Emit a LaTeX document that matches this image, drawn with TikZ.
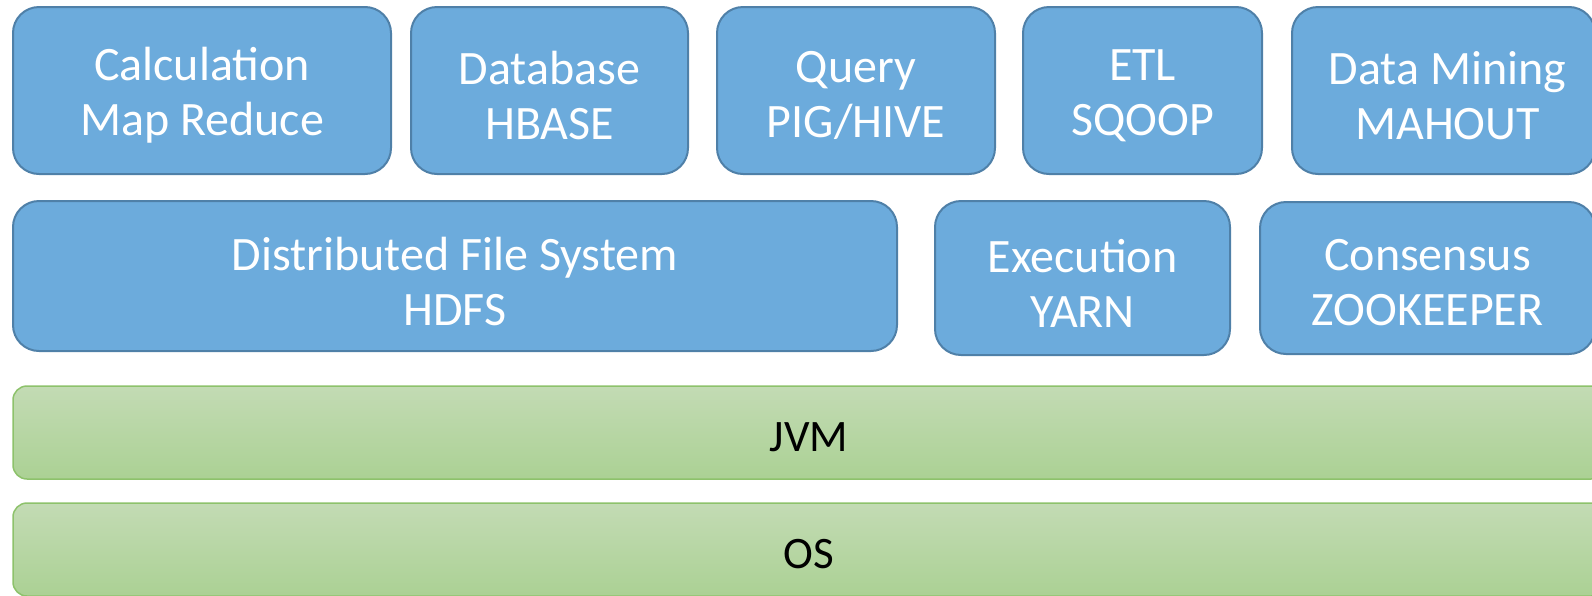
\documentclass[tikz,border=0pt]{standalone}
\usepackage{fontspec}
\setmainfont{Carlito}
\definecolor{bluefill}{HTML}{6CABDC}
\definecolor{blueline}{HTML}{4F80A8}
\definecolor{greentop}{HTML}{C3DBB4}
\definecolor{greenbot}{HTML}{ABD194}
\definecolor{greenline}{HTML}{8DC26B}
\tikzset{
  bluebox/.style={draw=blueline, line width=2pt, fill=bluefill, rounded corners=26pt, inner sep=0pt},
  bluetext/.style={text=white, align=center, inner sep=0pt, font=\fontsize{48}{55}\selectfont},
  greenbar/.style={draw=greenline, line width=1.5pt, top color=greentop, bottom color=greenbot,
    rounded corners=14pt, inner sep=0pt, minimum width=1592pt, minimum height=93pt},
  greentext/.style={text=black, inner sep=0pt, font=\fontsize{45}{54}\selectfont}
}
\begin{document}
\begin{tikzpicture}[x=1pt,y=-1pt]
\useasboundingbox (0,0) rectangle (1592,595);
\node[bluebox, minimum width=378pt, minimum height=167pt] (calc) at (202,90.5) {};
\node[bluebox, minimum width=277pt, minimum height=167pt] (db) at (549.5,90.5) {};
\node[bluebox, minimum width=278pt, minimum height=167pt] (query) at (856,90.5) {};
\node[bluebox, minimum width=239pt, minimum height=167pt] (etl) at (1142.5,90.5) {};
\node[bluebox, minimum width=303pt, minimum height=167pt] (mining) at (1443.5,90.5) {};
\node[bluebox, minimum width=884pt, minimum height=150pt] (hdfs) at (455,276) {};
\node[bluebox, minimum width=295pt, minimum height=154pt] (yarn) at (1082.5,278) {};
\node[bluebox, minimum width=335pt, minimum height=152pt] (zk) at (1427.5,278) {};
\node[greenbar] (jvm) at (809,432.5) {};
\node[greenbar] (os) at (809,549.5) {};
\node[bluetext] (calct) at ([yshift=-5pt]calc.center) {Calculation\\Map Reduce};
\node[bluetext] (dbt) at ([yshift=-5pt]db.center) {Database\\HBASE};
\node[bluetext] (queryt) at ([yshift=-5pt]query.center) {Query\\PIG/HIVE};
\node[bluetext] (etlt) at ([yshift=-5pt]etl.center) {ETL\\SQOOP};
\node[bluetext] (miningt) at ([yshift=-5pt,xshift=4pt]mining.center) {Data Mining\\MAHOUT};
\node[bluetext] (hdfst) at ([yshift=-5pt]hdfs.center) {Distributed File System\\HDFS};
\node[bluetext] (yarnt) at ([yshift=-5pt]yarn.center) {Execution\\YARN};
\node[bluetext] (zkt) at ([yshift=-5pt]zk.center) {Consensus\\ZOOKEEPER};
\node[greentext] (jvmt) at ([yshift=-5pt]jvm.center) {JVM};
\node[greentext] (ost) at ([yshift=-5pt]os.center) {OS};
\end{tikzpicture}
\end{document}
